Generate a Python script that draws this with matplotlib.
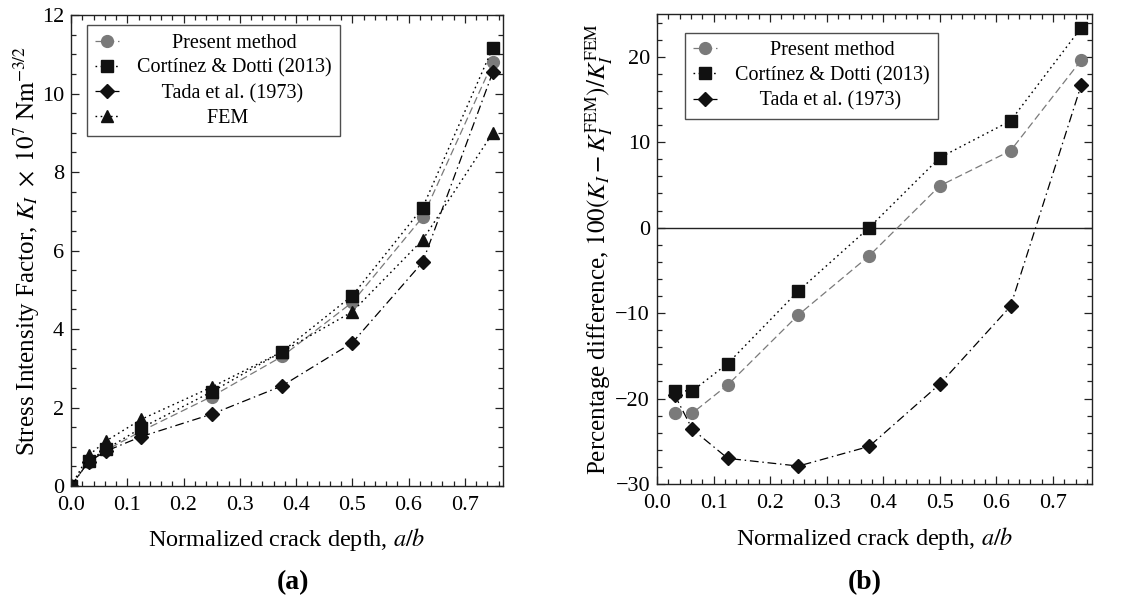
import numpy as np
import matplotlib
matplotlib.use("Agg")
import matplotlib.pyplot as plt
from matplotlib.ticker import MultipleLocator

plt.rcParams['font.family'] = ['Liberation Serif', 'DejaVu Serif']
plt.rcParams['mathtext.fontset'] = 'stix'

# crack depth a/b
x_a = [0.0, 0.03125, 0.0625, 0.125, 0.25, 0.375, 0.5, 0.625, 0.75]
x_b = [0.03125, 0.0625, 0.125, 0.25, 0.375, 0.5, 0.625, 0.75]

# (a) stress intensity factor, K_I x 1e7
k_present = [0.0, 0.62, 0.91, 1.40, 2.28, 3.30, 4.68, 6.85, 10.80]
k_cortinez = [0.0, 0.64, 0.94, 1.48, 2.40, 3.42, 4.85, 7.09, 11.17]
k_tada = [0.0, 0.62, 0.89, 1.26, 1.83, 2.55, 3.65, 5.70, 10.55]
k_fem = [0.0, 0.78, 1.15, 1.70, 2.52, 3.42, 4.44, 6.27, 9.00]

# (b) percentage difference vs FEM
d_present = [-21.7, -21.7, -18.4, -10.2, -3.3, 4.9, 9.0, 19.6]
d_cortinez = [-19.1, -19.1, -15.9, -7.4, 0.0, 8.2, 12.5, 23.4]
d_tada = [-19.6, -23.6, -27.0, -27.9, -25.6, -18.3, -9.2, 16.7]

lab_present = "       Present method"
lab_cortinez = "Cortínez & Dotti (2013)"
lab_tada = "     Tada et al. (1973)"
lab_fem = "              FEM"

gray = '#7a7a7a'
fs_tick = 16
fs_lab = 17.5
fs_leg = 14.5

fig = plt.figure(figsize=(11.35, 6.02), dpi=100)
ax1 = fig.add_axes([0.0626, 0.1927, 0.3806, 0.7823])
ax2 = fig.add_axes([0.5789, 0.196, 0.3832, 0.7807])

def style(ax):
    ax.tick_params(which='both', direction='in', top=True, right=True,
                   labelsize=fs_tick, width=0.9, color='#222222')
    ax.tick_params(which='major', length=6)
    ax.tick_params(which='minor', length=3.5)
    ax.tick_params(axis='x', pad=7)
    ax.tick_params(axis='y', pad=5)
    for s in ax.spines.values():
        s.set_linewidth(1.0)
        s.set_color('#222222')
    ax.xaxis.set_major_locator(MultipleLocator(0.1))
    ax.xaxis.set_minor_locator(MultipleLocator(0.02))
    ax.set_xlabel("Normalized crack depth, $a/b$", fontsize=fs_lab)

# panel (a)
ax1.plot(x_a, k_present, color=gray, ls=(0, (6, 3)), lw=0.9, marker='o', ms=8.5,
         mfc=gray, mec=gray, label=lab_present)
ax1.plot(x_a, k_cortinez, color='k', ls=(0, (1.2, 2.5)), lw=1.0, marker='s', ms=8,
         mfc='#111111', mec='#111111', label=lab_cortinez)
ax1.plot(x_a, k_tada, color='k', ls=(0, (7, 3, 1.2, 3)), lw=0.9, marker='D', ms=7,
         mfc='#111111', mec='#111111', label=lab_tada)
ax1.plot(x_a, k_fem, color='k', ls=(0, (1.2, 2.5)), lw=1.0, marker='^', ms=8.5,
         mfc='#111111', mec='#111111', label=lab_fem)
ax1.set_xlim(0, 0.768)
ax1.set_ylim(0, 12)
ax1.yaxis.set_major_locator(MultipleLocator(2))
ax1.yaxis.set_minor_locator(MultipleLocator(0.5))
style(ax1)
ax1.set_ylabel(r"Stress Intensity Factor, $K_I\ \times\ 10^7\ \mathrm{Nm}^{-3/2}$",
               fontsize=18)
ax1.yaxis.set_label_coords(-0.068, 0.5)
ax1.xaxis.set_label_coords(0.5, -0.084)
leg1 = ax1.legend(loc='upper left', bbox_to_anchor=(0.037, 0.978), fontsize=fs_leg,
                  frameon=True, fancybox=False, edgecolor='#222222',
                  handlelength=1.2, handletextpad=0.9, borderpad=0.4,
                  labelspacing=0.3, borderaxespad=0)
leg1.get_frame().set_linewidth(1.0)

# panel (b)
ax2.axhline(0, color='#222222', lw=1.0)
ax2.plot(x_b, d_present, color=gray, ls=(0, (6, 3)), lw=0.9, marker='o', ms=8.5,
         mfc=gray, mec=gray, label=lab_present)
ax2.plot(x_b, d_cortinez, color='k', ls=(0, (1.2, 2.5)), lw=1.0, marker='s', ms=8,
         mfc='#111111', mec='#111111', label=lab_cortinez)
ax2.plot(x_b, d_tada, color='k', ls=(0, (7, 3, 1.2, 3)), lw=0.9, marker='D', ms=7,
         mfc='#111111', mec='#111111', label=lab_tada)
ax2.set_xlim(0, 0.769)
ax2.set_ylim(-30, 25)
ax2.yaxis.set_major_locator(MultipleLocator(10))
ax2.yaxis.set_minor_locator(MultipleLocator(2))
style(ax2)
ax2.set_ylabel(r"Percentage difference, $100(K_I - K_I^{\mathrm{FEM}})/K_I^{\mathrm{FEM}}$",
               fontsize=18)
ax2.yaxis.set_label_coords(-0.097, 0.5)
ax2.xaxis.set_label_coords(0.5, -0.088)
leg2 = ax2.legend(loc='upper left', bbox_to_anchor=(0.064, 0.96), fontsize=fs_leg,
                  frameon=True, fancybox=False, edgecolor='#222222',
                  handlelength=1.2, handletextpad=0.9, borderpad=0.4,
                  labelspacing=0.3, borderaxespad=0)
leg2.get_frame().set_linewidth(1.0)

fig.text(0.258, 0.032, "(a)", fontsize=20, fontweight='bold', ha='center', va='center')
fig.text(0.762, 0.032, "(b)", fontsize=20, fontweight='bold', ha='center', va='center')

fig.savefig("out.png", dpi=100)
